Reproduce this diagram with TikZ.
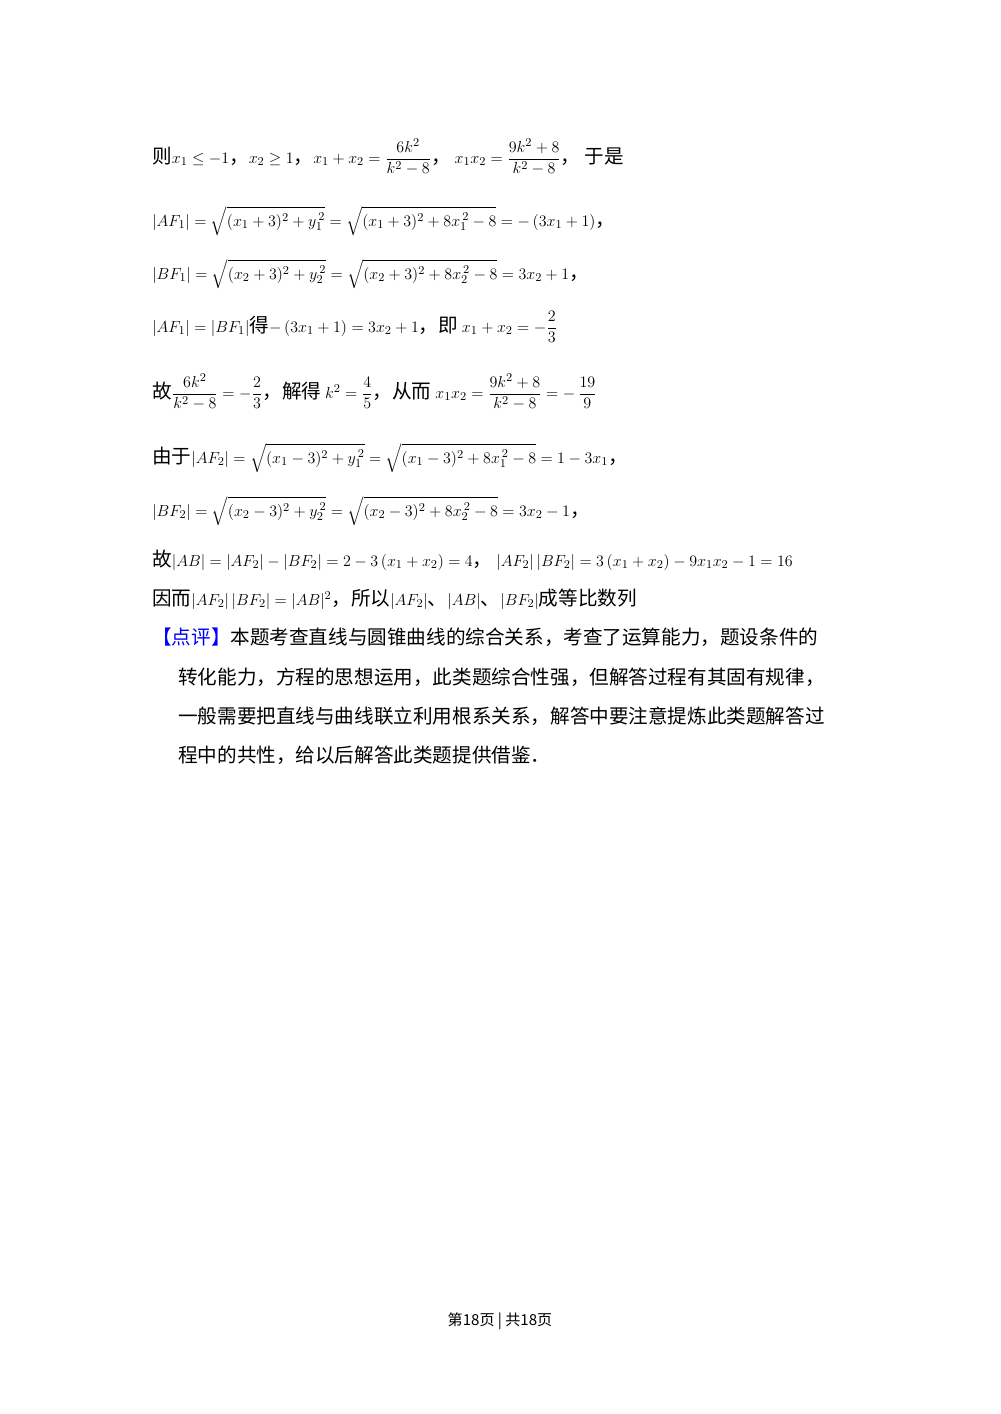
\documentclass[tikz,border=0pt]{standalone}
\usepackage{amsmath}
\usepackage{fontspec}
\setmainfont{Carlito}
\newfontfamily\cjk[Scale=1.13]{Noto Sans CJK SC}
\newcommand{\zh}[1]{{\cjk #1}}
\begin{document}
\begin{tikzpicture}[x=0.75pt,y=-0.75pt]
\tikzset{ln/.style={anchor=base west,inner sep=0pt,font=\fontsize{13}{16}\selectfont}}
\useasboundingbox (0,0) rectangle (1000,1414);
\fill[white] (0,0) rectangle (1000,1414);
\node[ln] (l1) at (152,163) {\zh{则}$x_1\le-1$\zh{，}$x_2\ge1$\zh{，}$x_1+x_2=\dfrac{6k^2}{k^2-8}$\zh{，}\ $x_1x_2=\dfrac{9k^2+8}{k^2-8}$\zh{，}\ \zh{于是}};
\node[ln] (l2) at (152,226) {$|AF_1|=\sqrt{(x_1+3)^2+y_1^{\,2}}=\sqrt{(x_1+3)^2+8x_1^{\,2}-8}=-\,(3x_1+1)$\zh{，}};
\node[ln] (l3) at (152,279) {$|BF_1|=\sqrt{(x_2+3)^2+y_2^{\,2}}=\sqrt{(x_2+3)^2+8x_2^{\,2}-8}=3x_2+1$\zh{，}};
\node[ln] (l4) at (152,332) {$|AF_1|=|BF_1|$\zh{得}$-\,(3x_1+1)=3x_2+1$\zh{，即}\ $x_1+x_2=-\dfrac{2}{3}$};
\node[ln] (l5) at (152,398) {\zh{故}$\dfrac{6k^2}{k^2-8}=-\dfrac{2}{3}$\zh{，解得}\ $k^2=\dfrac{4}{5}$\zh{，从而}\ $x_1x_2=\dfrac{9k^2+8}{k^2-8}=-\,\dfrac{19}{9}$};
\node[ln] (l6) at (152,463) {\zh{由于}$|AF_2|=\sqrt{(x_1-3)^2+y_1^{\,2}}=\sqrt{(x_1-3)^2+8x_1^{\,2}-8}=1-3x_1$\zh{，}};
\node[ln] (l7) at (152,516) {$|BF_2|=\sqrt{(x_2-3)^2+y_2^{\,2}}=\sqrt{(x_2-3)^2+8x_2^{\,2}-8}=3x_2-1$\zh{，}};
\node[ln] (l8) at (152,566) {\zh{故}$|AB|=|AF_2|-|BF_2|=2-3\,(x_1+x_2)=4$\zh{，}\ $|AF_2|\,|BF_2|=3\,(x_1+x_2)-9x_1x_2-1=16$};
\node[ln] (l9) at (152,605) {\zh{因而}$|AF_2|\,|BF_2|=|AB|^2$\zh{，所以}$|AF_2|$\zh{、}$|AB|$\zh{、}$|BF_2|$\zh{成等比数列}};
\node[ln] (l10) at (152,644) {\textcolor{blue}{\zh{【点评】}}\zh{本题考查直线与圆锥曲线的综合关系，考查了运算能力，题设条件的}};
\node[ln] (l11) at (178,684) {\zh{转化能力，方程的思想运用，此类题综合性强，但解答过程有其固有规律，}};
\node[ln] (l12) at (178,723) {\zh{一般需要把直线与曲线联立利用根系关系，解答中要注意提炼此类题解答过}};
\node[ln] (l13) at (178,762) {\zh{程中的共性，给以后解答此类题提供借鉴．}};
\node[anchor=base,inner sep=0pt,font=\fontsize{10}{13}\selectfont] (ft) at (500,1325) {\zh{第18页 | 共18页}};
\end{tikzpicture}
\end{document}
